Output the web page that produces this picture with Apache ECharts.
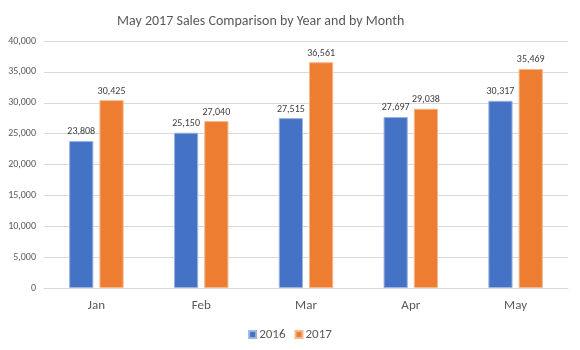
<!DOCTYPE html>
<html>
<head>
<meta charset="utf-8">
<script src="https://cdn.jsdelivr.net/npm/echarts@6/dist/echarts.min.js"></script>
<style>html,body{margin:0;padding:0;background:#fff}#chart{width:580px;height:350px}</style>
</head>
<body>
<div id="chart"></div>
<script>
// Monthly sales, 2016 vs 2017
const months = ['Jan', 'Feb', 'Mar', 'Apr', 'May'];
const sales2016 = [23808, 25150, 27515, 27697, 30317];
const sales2017 = [30425, 27040, 36561, 29038, 35469];
const yTicks = { min: 0, max: 40000, interval: 5000 };

const font = 'Calibri, Carlito, Lato, sans-serif';
const chart = echarts.init(document.getElementById('chart'), null, { renderer: 'canvas' });

const labelStyle = {
  show: true,
  position: 'top',
  distance: 4,
  color: '#404040',
  fontSize: 10,
  fontFamily: font,
  formatter: p => p.value.toLocaleString('en-US')
};

chart.setOption({
  animation: false,
  title: {
    text: 'May 2017 Sales Comparison by Year and by Month',
    left: 112,
    top: 9,
    textStyle: { color: '#595959', fontSize: 14, fontWeight: 'normal', fontFamily: font }
  },
  legend: {
    top: 323,
    left: 'center',
    itemWidth: 7,
    itemHeight: 7,
    itemGap: 9,
    icon: 'rect',
    textStyle: { color: '#595959', fontSize: 13, fontFamily: font, padding: [0, 0, 0, -2] }
  },
  grid: { left: 44, right: 12, top: 41, bottom: 62 },
  xAxis: {
    type: 'category',
    data: months,
    axisLine: { lineStyle: { color: '#d9d9d9' } },
    axisTick: { show: false },
    axisLabel: { color: '#595959', fontSize: 13, fontFamily: font, margin: 11 }
  },
  yAxis: {
    type: 'value',
    min: yTicks.min,
    max: yTicks.max,
    interval: yTicks.interval,
    axisLine: { show: false },
    axisTick: { show: false },
    splitLine: { lineStyle: { color: '#d9d9d9' } },
    axisLabel: {
      color: '#595959', fontSize: 10, fontFamily: font, margin: 8,
      formatter: v => v.toLocaleString('en-US')
    }
  },
  series: [
    {
      name: '2016', type: 'bar', data: sales2016,
      barGap: '25%', barCategoryGap: '48%',
      itemStyle: { color: '#4472C4', borderColor: '#9db4e0', borderWidth: 1 },
      label: labelStyle
    },
    {
      name: '2017', type: 'bar', data: sales2017,
      itemStyle: { color: '#ED7D31', borderColor: '#f5b98f', borderWidth: 1 },
      label: labelStyle
    }
  ]
});
</script>
</body>
</html>
